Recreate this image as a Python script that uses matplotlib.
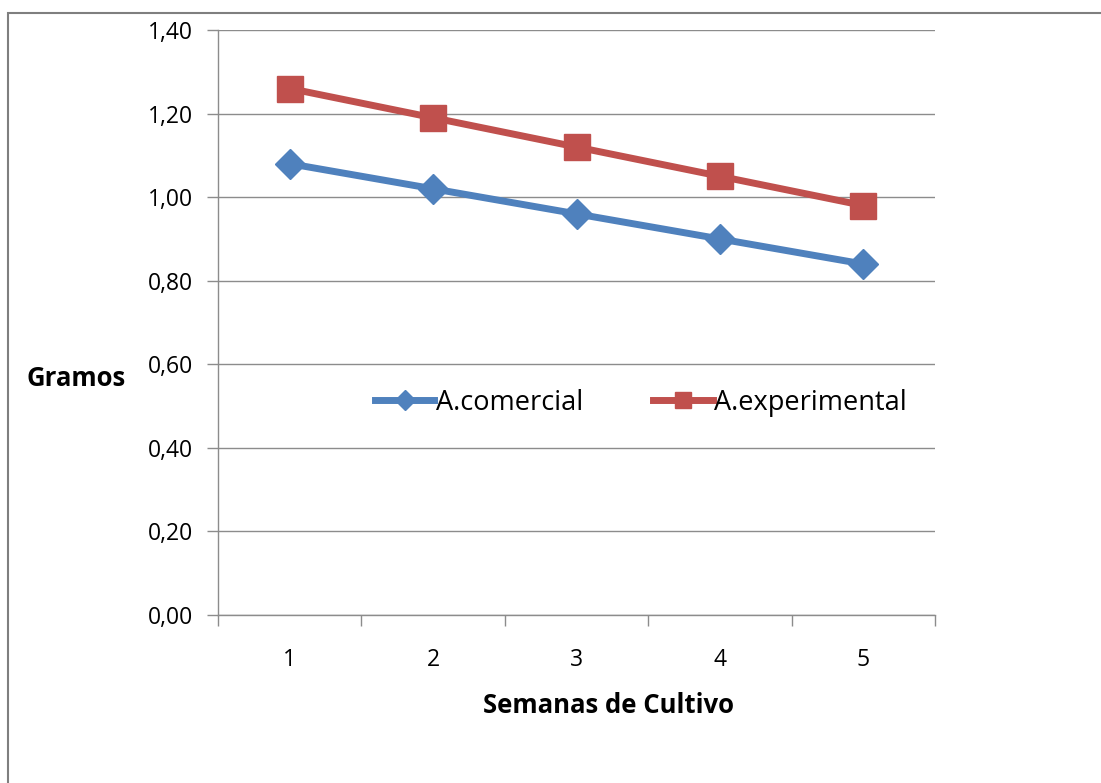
import matplotlib.pyplot as plt
from matplotlib.patches import Rectangle

semanas = [1, 2, 3, 4, 5]
comercial = [1.08, 1.02, 0.96, 0.90, 0.84]
experimental = [1.26, 1.19, 1.12, 1.05, 0.98]
y_ticks = [0.0, 0.2, 0.4, 0.6, 0.8, 1.0, 1.2, 1.4]

GRID = "#8c8c8c"
BLUE = "#4f81bd"
RED = "#c0504d"

plt.rcParams["font.family"] = ["Open Sans", "DejaVu Sans"]

fig = plt.figure(figsize=(11.01, 7.83), dpi=100)
# chart frame
fig.patches.append(Rectangle((8 / 1101, -0.01), 1.02, 1 - 12.5 / 783 + 0.01,
                             transform=fig.transFigure, fill=False,
                             edgecolor="#7f7f7f", linewidth=1.5))

ax = fig.add_axes([218 / 1101, 1 - 615 / 783, (935 - 218) / 1101, (615 - 30) / 783])

x = list(range(len(semanas)))
ax.plot(x, comercial, color=BLUE, lw=5, marker="D", ms=15,
        label="A.comercial", zorder=3)
ax.plot(x, experimental, color=RED, lw=5, marker="s", ms=18.5,
        label="A.experimental", zorder=3)

ax.set_xlim(-0.5, len(semanas) - 0.5)
ax.set_ylim(0, 1.4)
ax.set_yticks(y_ticks)
ax.set_yticklabels([f"{v:.2f}".replace(".", ",") for v in y_ticks])
ax.set_xticks(x)
ax.set_xticklabels([str(s) for s in semanas])
ax.set_xticks([i - 0.5 for i in range(len(semanas) + 1)], minor=True)

ax.grid(axis="y", color=GRID, lw=1)
ax.set_axisbelow(True)
for side in ["top", "right"]:
    ax.spines[side].set_visible(False)
for side in ["left", "bottom"]:
    ax.spines[side].set_color(GRID)
    ax.spines[side].set_linewidth(1)

ax.tick_params(axis="y", length=8, width=1, color=GRID, labelsize=16.5, pad=10)
ax.tick_params(axis="x", which="major", length=0, labelsize=16.5, pad=24)
ax.tick_params(axis="x", which="minor", length=8, width=1, color=GRID)

ax.set_xlabel("Semanas de Cultivo", fontsize=18.5, fontweight="bold")
ax.xaxis.set_label_coords(0.545, -0.132)
ax.set_ylabel("Gramos", fontsize=18.5, fontweight="bold", rotation=0,
              ha="left", va="center")
ax.yaxis.set_label_coords(-0.267, 0.405)

ax.legend(loc="center", bbox_to_anchor=(0.59, 0.363), ncol=2, frameon=False,
          fontsize=19.5, handlelength=2.2, handletextpad=0.05, columnspacing=2.6,
          markerscale=0.65)

fig.savefig("out.png", dpi=100)
